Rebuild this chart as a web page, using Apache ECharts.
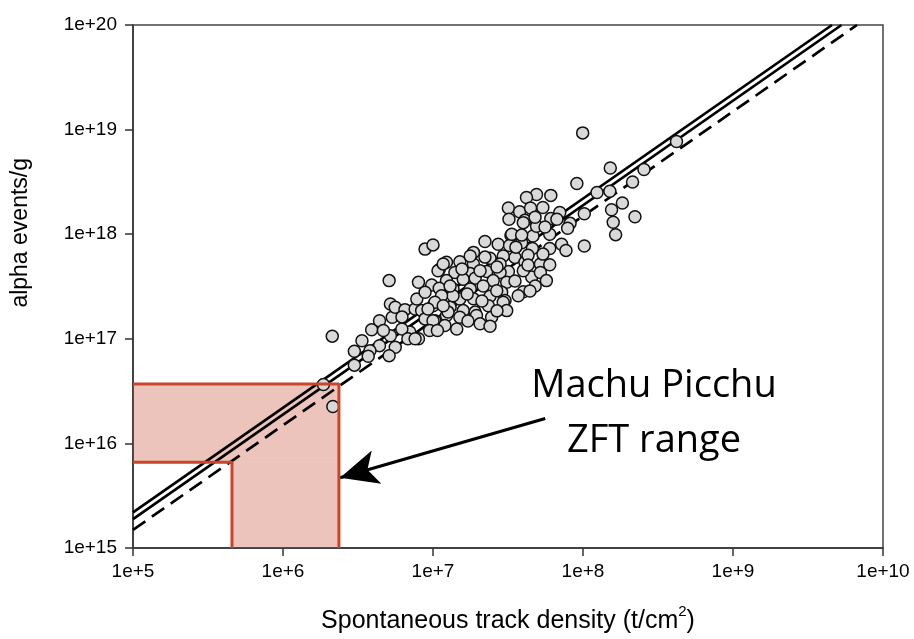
<!DOCTYPE html>
<html><head><meta charset="utf-8">
<script src="https://cdn.jsdelivr.net/npm/echarts@6/dist/echarts.min.js"></script>
<style>html,body{margin:0;padding:0;background:#fff}#c{width:914px;height:639px}</style>
</head><body><div id="c"></div>
<script>
// Spontaneous track density (t/cm^2) of each sample
const trackDensity = [
 9.95e7,4.2e8,1.52e8,2.55e8,9.1e7,2.14e8,1.24e8,1.51e8,1.83e8,1.55e8,
 2.22e8,1.59e8,1.65e8,1.02e8,1.02e8,8.2e7,7.0e7,6.1e7,4.9e7,4.2e7,
 3.18e7,3.78e7,4.47e7,5.4e7,6.1e7,4.1e7,3.21e7,6.7e7,6.0e7,4.64e7,
 3.9e7,3.31e7,2.72e7,2.22e7,3.24e7,4.6e7,6.0e7,7.2e7,7.7e7,2.4e7,
 3.52e7,4.1e7,5.2e7,6.0e7,3.18e7,4.55e7,4.8e7,4.0e7,5.2e7,4.9e7,
 4.0e7,3.35e7,3.9e7,1.86e7,2.94e7,4.3e7,1.23e7,1.51e7,1.86e7,1.4e7,
 1.77e7,2.28e7,2.8e7,4.0e7,5.7e7,1.23e7,1.59e7,1.91e7,2.52e7,3.1e7,
 1.36e7,1.77e7,2.16e7,2.87e7,1.2e7,1.51e7,1.86e7,2.4e7,3.02e7,3.7e7,
 1.3e7,1.59e7,2.34e7,2.94e7,1.91e7,1.23e7,1.51e7,1.95e7,2.46e7,1.44e7,
 2.06e7,2.4e7,1.1e7,1.77e7,2.8e7,2.06e7,2.66e7,1.36e7,1.0e7,1.26e7,
 1.03e7,1.2e7,2.94e7,3.1e7,7.0e6,8.0e6,5.2e6,4.4e6,3.8e6,5.6e6,
 5.1e6,2.13e6,2.99e6,2.99e6,3.7e6,5.1e6,3.9e6,4.4e6,5.35e6,4.67e6,
 5.2e6,5.6e6,6.5e6,6.2e6,6.8e6,7.6e6,7.6e6,7.8e6,8.4e6,8.85e6,
 1.0e7,9.5e6,1.07e7,8.0e6,9.8e6,1.1e7,1.14e7,8.85e6,1.03e7,1.17e7,
 8.85e6,1.0e7,1.08e7,1.17e7,1.86e6,2.15e6,7.9e7,
 1.69e7,2.12e7,2.67e7,1.71e7,3.52e7,4.3e7,5.41e7,3.57e7,2.67e7,1.56e7,
 1.3e7,9.26e6,6.21e6,3.36e6,4.79e7,5.58e7,2.22e7,4.43e7
];
// alpha events per gram of each sample
const alphaEvents = [
 9.3e18,7.7e18,4.3e18,4.16e18,3.05e18,3.15e18,2.5e18,2.57e18,1.99e18,1.71e18,
 1.47e18,1.3e18,9.9e17,7.7e17,1.57e18,1.27e18,1.61e18,2.35e18,2.4e18,2.24e18,
 1.78e18,1.64e18,1.78e18,1.8e18,1.41e18,1.36e18,1.39e18,1.39e18,1.0e18,9.6e17,
 8.3e17,9.7e17,8.0e17,8.5e17,7.8e17,7.3e17,7.3e17,8.0e17,7.0e17,5.9e17,
 6.0e17,5.4e17,5.2e17,5.1e17,4.4e17,3.9e17,3.2e17,2.82e17,4.3e17,1.19e18,
 1.29e18,1.0e18,9.8e17,6.7e17,6.2e17,6.3e17,5.4e17,5.45e17,5.2e17,4.3e17,
 4.2e17,4.4e17,4.3e17,4.47e17,3.6e17,3.6e17,3.7e17,3.8e17,3.6e17,3.47e17,
 3.0e17,3.0e17,3.2e17,2.79e17,2.5e17,2.4e17,2.41e17,2.55e17,2.32e17,2.58e17,
 2.0e17,1.86e17,2.07e17,2.0e17,1.8e17,1.67e17,1.61e17,1.67e17,1.61e17,1.24e17,
 1.39e17,1.32e17,4.57e17,6.2e17,5.2e17,4.47e17,2.88e17,2.58e17,2.07e17,1.8e17,
 1.49e17,1.34e17,2.24e17,1.86e17,1.16e17,1.0e17,1.07e17,8.6e16,7.7e16,8.3e16,
 3.6e17,1.06e17,7.6e16,5.6e16,6.8e16,6.9e16,1.22e17,1.49e17,1.61e17,1.2e17,
 2.15e17,2.0e17,1.9e17,1.24e17,1.0e17,1.0e17,1.93e17,2.4e17,1.86e17,1.55e17,
 1.49e17,1.2e17,1.2e17,3.47e17,3.27e17,3.04e17,2.58e17,2.79e17,2.24e17,2.07e17,
 7.2e17,7.9e17,4.47e17,5.2e17,3.65e16,2.25e16,1.14e18,
 2.68e17,2.3e17,1.85e17,1.48e17,3.57e17,5.07e17,6.45e17,7.52e17,4.85e17,4.64e17,
 3.2e17,1.93e17,1.62e17,9.57e16,1.45e18,1.17e18,6.04e17,2.86e17
];
// reference lines (end points)
const fitUpperX = [1e5, 4.57e9],  fitUpperY = [2.19e15, 1e20];
const fitMiddleX = [1e5, 5.29e9], fitMiddleY = [1.89e15, 1e20];
const fitDashedX = [1e5, 6.71e9], fitDashedY = [1.49e15, 1e20];
// Machu Picchu ZFT range
const zftTrackDensity = [4.57e5, 2.36e6];
const zftAlphaEvents = [6.6e15, 3.69e16];
const xTickLabels = ['1e+5','1e+6','1e+7','1e+8','1e+9','1e+10'];
const yTickLabels = ['1e+15','1e+16','1e+17','1e+18','1e+19','1e+20'];
const xMin = 1e5, xMax = 1e10, yMin = 1e15, yMax = 1e20;
const annotationText = 'Machu Picchu\nZFT range';
const arrowFrom = [5.6e7, 1.73e16], arrowTo = [2.4e6, 4.7e15];

const pts = trackDensity.map((x, i) => [x, alphaEvents[i]]);
const pair = (xs, ys) => xs.map((x, i) => [x, ys[i]]);
const red = '#c8462b';
const font = '"Liberation Sans", Arial, sans-serif';

const chart = echarts.init(document.getElementById('c'), null, {renderer: 'canvas'});
chart.setOption({
  animation: false,
  backgroundColor: '#fff',
  grid: {left: 133, right: 31, top: 25, bottom: 89, show: true, borderColor: '#444', borderWidth: 1.5, backgroundColor: 'transparent'},
  xAxis: {
    type: 'log', logBase: 10, min: xMin, max: xMax,
    splitLine: {show: false}, minorTick: {show: false},
    axisLine: {lineStyle: {color: '#333', width: 1.5}},
    axisTick: {inside: false, length: 8, lineStyle: {color: '#333', width: 1.5}},
    axisLabel: {fontFamily: font, fontSize: 19, color: '#000', margin: 14,
      formatter: v => xTickLabels[Math.round(Math.log10(v)) - 5]},
    name: 'Spontaneous track density (t/cm{s|2})',
    nameLocation: 'middle', nameGap: 56,
    nameTextStyle: {fontFamily: font, fontSize: 25, color: '#000',
      rich: {s: {fontFamily: font, fontSize: 15, color: '#000', padding: [0, 0, 20, 0]}}}
  },
  yAxis: {
    type: 'log', logBase: 10, min: yMin, max: yMax,
    splitLine: {show: false}, minorTick: {show: false},
    axisLine: {lineStyle: {color: '#333', width: 1.5}},
    axisTick: {inside: false, length: 8, lineStyle: {color: '#333', width: 1.5}},
    axisLabel: {fontFamily: font, fontSize: 19, color: '#000', margin: 16,
      formatter: v => yTickLabels[Math.round(Math.log10(v)) - 15]}
  },
  graphic: [
    {type: 'text', left: 9, top: 158, rotation: Math.PI / 2, z: 10,
     style: {text: 'alpha events/g', fontFamily: font, fontSize: 23, fill: '#000'}},
    {type: 'text', x: 654, y: 414, z: 20,
     style: {text: annotationText, fontFamily: '"Open Sans", sans-serif', fontSize: 38, lineHeight: 55,
       fill: '#000', align: 'center', verticalAlign: 'middle'}}
  ],
  series: [
    {type: 'line', data: pair(fitUpperX, fitUpperY), symbol: 'none', z: 2, silent: true,
     lineStyle: {color: '#000', width: 2.7}},
    {type: 'line', data: pair(fitMiddleX, fitMiddleY), symbol: 'none', z: 2, silent: true,
     lineStyle: {color: '#000', width: 2.7}},
    {type: 'line', data: pair(fitDashedX, fitDashedY), symbol: 'none', z: 2, silent: true,
     lineStyle: {color: '#000', width: 2.7, type: [15, 8]}},
    {type: 'scatter', data: pts, symbol: 'circle', symbolSize: 12, z: 3,
     itemStyle: {color: '#d9d9d9', borderColor: '#111', borderWidth: 1.5, opacity: 1}},
    {type: 'line', data: [], z: 4, silent: true,
     markArea: {silent: true, itemStyle: {color: 'rgba(200,70,43,0.32)', borderWidth: 0},
       data: [
         [{coord: [xMin, zftAlphaEvents[0]]}, {coord: [zftTrackDensity[1], zftAlphaEvents[1]]}],
         [{coord: [zftTrackDensity[0], yMin]}, {coord: [zftTrackDensity[1], zftAlphaEvents[0]]}]
       ]}},
    {type: 'line', z: 5, symbol: 'none', silent: true, lineStyle: {color: red, width: 3},
     data: [[xMin, zftAlphaEvents[1]], [zftTrackDensity[1], zftAlphaEvents[1]], [zftTrackDensity[1], yMin]]},
    {type: 'line', z: 5, symbol: 'none', silent: true, lineStyle: {color: red, width: 3},
     data: [[xMin, zftAlphaEvents[0]], [zftTrackDensity[0], zftAlphaEvents[0]], [zftTrackDensity[0], yMin]]},
    {type: 'line', data: [], z: 6, silent: true,
     markLine: {silent: true, symbol: ['none', 'arrow'], symbolSize: [26, 38],
       lineStyle: {color: '#000', width: 3, type: 'solid'}, label: {show: false},
       itemStyle: {color: '#000'},
       data: [[{coord: arrowFrom}, {coord: arrowTo}]]}}
  ]
});
</script></body></html>
